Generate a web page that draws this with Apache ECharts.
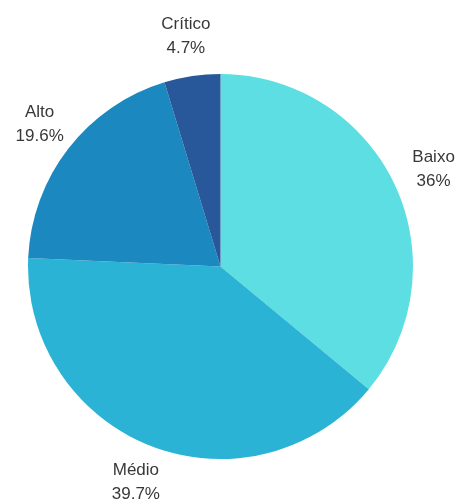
<!DOCTYPE html>
<html>
<head>
<meta charset="utf-8">
<script src="https://cdn.jsdelivr.net/npm/echarts@6/dist/echarts.min.js"></script>
<style>
  html, body { margin: 0; padding: 0; background: #ffffff; }
  #chart { width: 459px; height: 504px; }
</style>
</head>
<body>
<div id="chart"></div>
<script>
// Risk level distribution
const categories = ['Baixo', 'Médio', 'Alto', 'Crítico'];
const shares = [36, 39.7, 19.6, 4.7];
const sliceColors = ['#5cdee3', '#2bb3d6', '#1b88c0', '#28589a'];

const chart = echarts.init(document.getElementById('chart'), null, { renderer: 'canvas' });

chart.setOption({
  animation: false,
  series: [{
    type: 'pie',
    center: [220.5, 266.5],
    radius: 192.5,
    startAngle: 90,
    clockwise: true,
    data: categories.map((name, i) => ({
      name: name,
      value: shares[i],
      itemStyle: { color: sliceColors[i] }
    })),
    label: {
      show: true,
      position: 'outside',
      formatter: p => p.name + '\n' + p.value + '%',
      fontFamily: '"Liberation Sans", Arial, sans-serif',
      fontSize: 17,
      lineHeight: 24,
      color: '#383838',
      align: 'center',
      overflow: 'none'
    },
    labelLine: { show: false, length: 43, length2: 0 },
    // centre each label on the slice's mid-angle, just beyond the rim
    labelLayout: params => {
      const pts = params.labelLinePoints;
      if (!pts) return {};
      return {
        x: pts[1][0],
        y: pts[1][1],
        dy: 3,
        align: 'center',
        verticalAlign: 'middle'
      };
    },
    emphasis: { disabled: true }
  }]
});
</script>
</body>
</html>
